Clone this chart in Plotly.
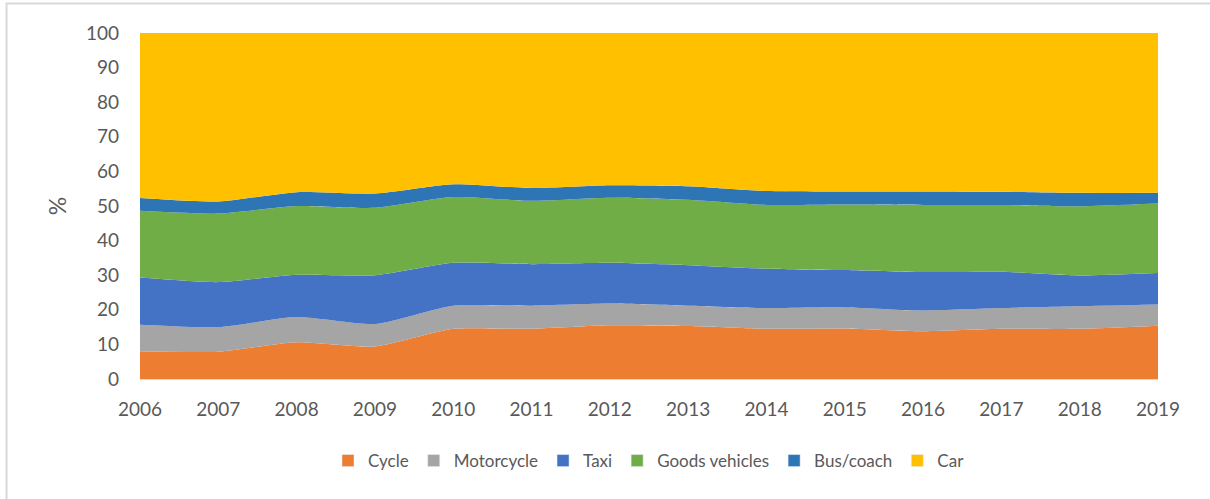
import plotly.graph_objects as go

years = [2006, 2007, 2008, 2009, 2010, 2011, 2012, 2013, 2014, 2015, 2016, 2017, 2018, 2019]

cycle = [8.0, 7.9, 10.6, 9.4, 14.5, 14.5, 15.5, 15.3, 14.5, 14.6, 13.8, 14.5, 14.5, 15.4]
motorcycle = [7.7, 7.1, 7.3, 6.5, 6.7, 6.7, 6.3, 5.9, 6.0, 6.1, 6.0, 6.0, 6.5, 6.1]
taxi = [13.6, 13.0, 12.2, 14.1, 12.4, 12.0, 11.8, 11.7, 11.4, 10.8, 11.1, 10.5, 8.9, 9.1]
goods = [19.3, 19.8, 19.9, 19.5, 19.0, 18.3, 18.8, 18.9, 18.4, 18.9, 19.4, 19.3, 20.0, 20.1]
bus = [3.7, 3.5, 4.0, 4.1, 3.7, 3.7, 3.6, 3.9, 4.0, 3.8, 3.9, 3.8, 3.9, 3.1]
car = [47.7, 48.7, 46.0, 46.4, 43.7, 44.8, 44.0, 44.3, 45.7, 45.8, 45.8, 45.9, 46.2, 46.2]

series = [
    ("Cycle", cycle, "#ed7d31"),
    ("Motorcycle", motorcycle, "#a5a5a5"),
    ("Taxi", taxi, "#4472c4"),
    ("Goods vehicles", goods, "#70ad47"),
    ("Bus/coach", bus, "#2e75b6"),
    ("Car", car, "#ffc000"),
]

fig = go.Figure()
for name, vals, col in series:
    fig.add_trace(go.Scatter(
        x=years, y=vals, name=name, stackgroup="one", mode="none",
        fillcolor=col, line=dict(shape="spline", smoothing=0.6, width=0),
        showlegend=False,
    ))
# square legend swatches like the original
for name, vals, col in series:
    fig.add_trace(go.Bar(x=[None], y=[None], name=name, marker_color=col))

fig.update_layout(
    width=1210, height=499,
    margin=dict(l=140, r=52, t=33, b=120),
    plot_bgcolor="white", paper_bgcolor="white",
    font=dict(family="Lato, sans-serif", color="#595959", size=19),
    showlegend=True,
    legend=dict(orientation="h", x=0.5, xanchor="center", y=-0.185, yanchor="top",
                font=dict(size=17), traceorder="normal"),
    # chart-area border: only the left and top edges fall inside the picture
    shapes=[dict(type="rect", xref="paper", yref="paper",
                 x0=-0.1311, x1=1.2, y0=-0.5, y1=1.0853,
                 line=dict(color="#d9d9d9", width=2), layer="below")],
)
fig.update_xaxes(
    range=[2006, 2019], tickvals=years, ticktext=[str(y) for y in years],
    showgrid=False, zeroline=False, showline=True, linecolor="#d9d9d9",
    ticks="", ticklabelstandoff=13,
)
fig.update_yaxes(
    range=[0, 100], dtick=10, showgrid=False, zeroline=False,
    title=dict(text="%", standoff=12), ticks="", ticklabelstandoff=20,
)

fig.write_html("out.html", config={"displayModeBar": False},
               post_script="document.body.style.margin='0';")
